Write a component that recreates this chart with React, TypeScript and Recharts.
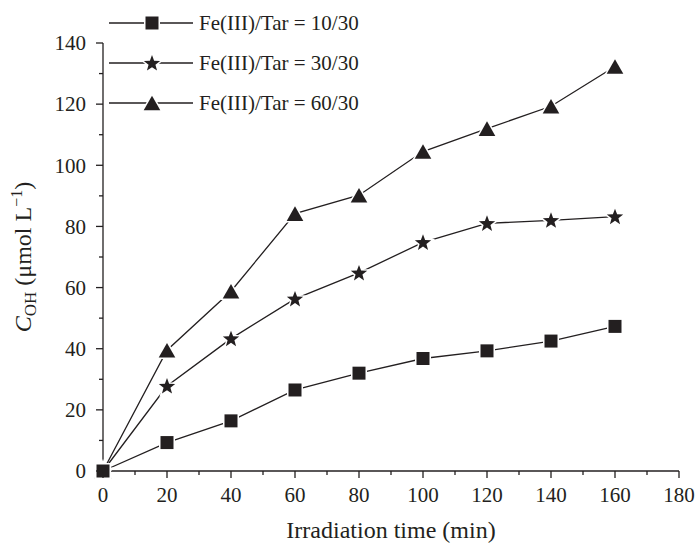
import React from "react";
import { LineChart, Line, XAxis, YAxis, Legend } from "recharts";

// irradiation time (min)
const times = [0, 20, 40, 60, 80, 100, 120, 140, 160];
// C_OH (µmol/L) for each Fe(III)/Tar ratio
const ratio10 = [0, 9.3, 16.4, 26.5, 32.0, 36.8, 39.3, 42.5, 47.3];
const ratio30 = [0, 27.8, 43.3, 56.3, 64.8, 74.8, 81.0, 82.0, 83.2];
const ratio60 = [0, 39.5, 58.8, 84.2, 90.2, 104.5, 112.0, 119.3, 132.3];

const seriesNames = ["Fe(III)/Tar = 10/30", "Fe(III)/Tar = 30/30", "Fe(III)/Tar = 60/30"];
const xTicks = [0, 10, 20, 30, 40, 50, 60, 70, 80, 90, 100, 110, 120, 130, 140, 150, 160, 170, 180];
const yTicks = [0, 10, 20, 30, 40, 50, 60, 70, 80, 90, 100, 110, 120, 130, 140];

const rows = times.map((t, i) => ({
  time: t,
  r10: ratio10[i],
  r30: ratio30[i],
  r60: ratio60[i],
}));

const INK = "#231f20";
const FONT = '"Liberation Serif", "Times New Roman", serif';

type Shape = "square" | "star" | "triangle";

const shapePath = (shape: Shape, cx: number, cy: number) => {
  if (shape === "square") {
    const h = 6.5;
    return `M${cx - h},${cy - h}H${cx + h}V${cy + h}H${cx - h}Z`;
  }
  if (shape === "triangle") {
    const w = 8.3;
    const h = 7.3;
    return `M${cx},${cy - h}L${cx + w},${cy + h}L${cx - w},${cy + h}Z`;
  }
  const pts: string[] = [];
  for (let k = 0; k < 10; k++) {
    const r = k % 2 === 0 ? 8.6 : 3.6;
    const a = -Math.PI / 2 + (k * Math.PI) / 5;
    pts.push(`${cx + r * Math.cos(a)},${cy + 0.6 + r * Math.sin(a)}`);
  }
  return `M${pts.join("L")}Z`;
};

const Marker = ({ shape, cx, cy }: { shape: Shape; cx: number; cy: number }) => (
  <path
    d={shapePath(shape, cx, cy)}
    fill={INK}
    stroke="#fff"
    strokeWidth={3}
    paintOrder="stroke"
    strokeLinejoin="miter"
  />
);

const dotFor = (shape: Shape) => (p: any) =>
  p.cx == null ? <g key={`${shape}-${p.index}`} /> : (
    <g key={`${shape}-${p.index}`}>
      <Marker shape={shape} cx={p.cx} cy={p.cy} />
    </g>
  );

const XTick = (props: any) => {
  const { x, y, payload } = props;
  const major = payload.value % 20 === 0;
  return (
    <g>
      <line x1={x} x2={x} y1={y} y2={y + (major ? 7 : 4)} stroke={INK} strokeWidth={1.3} />
      {major && (
        <text x={x} y={y + 31} textAnchor="middle" fontSize={21} fontFamily={FONT} fill={INK}>
          {payload.value}
        </text>
      )}
    </g>
  );
};

const YTick = (props: any) => {
  const { x, y, payload } = props;
  const major = payload.value % 20 === 0;
  return (
    <g>
      <line x1={x - (major ? 7 : 4)} x2={x} y1={y} y2={y} stroke={INK} strokeWidth={1.3} />
      {major && (
        <text x={x - 17} y={y} dy="0.35em" textAnchor="end" fontSize={21} fontFamily={FONT} fill={INK}>
          {payload.value}
        </text>
      )}
    </g>
  );
};

const XTitle = (props: any) => {
  const vb = props.viewBox;
  return (
    <text x={vb.x + vb.width / 2} y={vb.y + vb.height - 5} textAnchor="middle" fontSize={24} fontFamily={FONT} fill={INK}>
      Irradiation time (min)
    </text>
  );
};

const YTitle = (props: any) => {
  const vb = props.viewBox;
  const cx = 31;
  const cy = vb.y + vb.height / 2;
  return (
    <text
      x={cx}
      y={cy}
      transform={`rotate(-90, ${cx}, ${cy})`}
      textAnchor="middle"
      fontSize={24}
      fontFamily={FONT}
      fill={INK}
    >
      <tspan fontStyle="italic">C</tspan>
      <tspan fontSize={17} dy={5}>OH</tspan>
      <tspan dy={-5}> (μmol L</tspan>
      <tspan fontSize={16} dy={-9}>−1</tspan>
      <tspan dy={9}>)</tspan>
    </text>
  );
};

const legendShapes: Shape[] = ["square", "star", "triangle"];

const renderLegend = () => (
  <div>
    {seriesNames.map((name, i) => (
      <div key={name} style={{ display: "flex", alignItems: "center", height: 40 }}>
        <svg width={84} height={20} style={{ display: "block" }}>
          <line x1={0} x2={84} y1={10} y2={10} stroke={INK} strokeWidth={1.3} />
          <Marker shape={legendShapes[i]} cx={43} cy={10} />
        </svg>
        <span style={{ marginLeft: 6, fontSize: 21, fontFamily: FONT, color: INK, whiteSpace: "nowrap" }}>
          {name}
        </span>
      </div>
    ))}
  </div>
);

export default function App() {
  return (
    <div style={{ position: "absolute", left: 0, top: 0, background: "#fff" }}>
      <LineChart width={696} height={543} data={rows} margin={{ top: 43, right: 17, bottom: 0, left: 0 }}>
        <XAxis
          dataKey="time"
          type="number"
          domain={[0, 180]}
          ticks={xTicks}
          interval={0}
          height={72}
          tickSize={0}
          tickMargin={0}
          tickLine={false}
          tick={(p: any) => <XTick {...p} />}
          axisLine={{ stroke: INK, strokeWidth: 1.3 }}
          label={(p: any) => <XTitle {...p} />}
        />
        <YAxis
          type="number"
          domain={[0, 140]}
          ticks={yTicks}
          interval={0}
          width={103}
          tickSize={0}
          tickMargin={0}
          tickLine={false}
          tick={(p: any) => <YTick {...p} />}
          axisLine={{ stroke: INK, strokeWidth: 1.3 }}
          label={(p: any) => <YTitle {...p} />}
        />
        <Line
          dataKey="r60"
          name={seriesNames[2]}
          type="linear"
          stroke={INK}
          strokeWidth={1.3}
          dot={dotFor("triangle")}
          activeDot={false}
          isAnimationActive={false}
        />
        <Line
          dataKey="r30"
          name={seriesNames[1]}
          type="linear"
          stroke={INK}
          strokeWidth={1.3}
          dot={dotFor("star")}
          activeDot={false}
          isAnimationActive={false}
        />
        <Line
          dataKey="r10"
          name={seriesNames[0]}
          type="linear"
          stroke={INK}
          strokeWidth={1.3}
          dot={dotFor("square")}
          activeDot={false}
          isAnimationActive={false}
        />
        <Legend
          layout="horizontal"
          align="center"
          verticalAlign="middle"
          wrapperStyle={{ left: 109, top: 3, width: "auto" }}
          content={renderLegend}
        />
      </LineChart>
    </div>
  );
}
